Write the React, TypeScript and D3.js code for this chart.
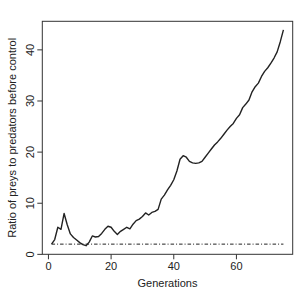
import React from 'react';
import * as d3 from 'd3';

// ratio per generation (1..75)
const generations = d3.range(1, 76);
const ratio = [
  2.0, 2.9, 5.3, 4.9, 8.0, 5.8, 4.0, 3.3, 2.8, 2.3,
  1.9, 1.7, 2.4, 3.6, 3.4, 3.5, 4.1, 4.9, 5.5, 5.3,
  4.5, 3.9, 4.5, 4.9, 5.3, 5.0, 5.9, 6.6, 6.9, 7.4,
  8.1, 7.7, 8.2, 8.4, 8.8, 10.8, 11.6, 12.6, 13.5, 14.6,
  16.3, 18.6, 19.3, 19.0, 18.2, 17.9, 17.8, 17.9, 18.2, 19.0,
  19.8, 20.6, 21.4, 22.0, 22.7, 23.5, 24.3, 25.0, 25.6, 26.6,
  27.3, 28.7, 29.4, 30.2, 31.8, 32.8, 33.5, 34.8, 35.8, 36.5,
  37.4, 38.4, 39.6, 41.6, 43.9,
];
const controlLevel = 2;
const xTicks = [0, 20, 40, 60];
const yTicks = [0, 10, 20, 30, 40];

const W = 297;
const H = 297;
const plot = { left: 42.3, right: 292.7, top: 21.3, bottom: 254.3 };

// R-style 4% axis expansion
const expand = (lo: number, hi: number): [number, number] => {
  const pad = (hi - lo) * 0.04;
  return [lo - pad, hi + pad];
};

const font = '"Liberation Sans", Arial, sans-serif';
const ink = '#222';

export default function App() {
  const x = d3.scaleLinear()
    .domain(expand(d3.min(generations)!, d3.max(generations)!))
    .range([plot.left, plot.right]);
  const y = d3.scaleLinear()
    .domain(expand(d3.min(ratio)!, d3.max(ratio)!))
    .range([plot.bottom, plot.top]);

  const line = d3.line<number>()
    .x((_, i) => x(generations[i]))
    .y(d => y(d));

  const midX = (plot.left + plot.right) / 2;
  const midY = (plot.top + plot.bottom) / 2;

  return (
    <svg width={W} height={H} style={{ position: 'absolute', left: 0, top: 0, background: '#fff' }}
      fontFamily={font}>
      <rect x={plot.left} y={plot.top} width={plot.right - plot.left} height={plot.bottom - plot.top}
        fill="none" stroke="#333" strokeWidth={1} />

      {xTicks.map(t => (
        <g key={'x' + t}>
          <line x1={x(t)} x2={x(t)} y1={plot.bottom} y2={plot.bottom + 5} stroke="#333" />
          <text x={x(t)} y={plot.bottom + 16} fontSize={11} textAnchor="middle" fill={ink}>{t}</text>
        </g>
      ))}

      {yTicks.map(t => (
        <g key={'y' + t}>
          <line x1={plot.left - 5} x2={plot.left} y1={y(t)} y2={y(t)} stroke="#333" />
          <text transform={`translate(${plot.left - 8},${y(t)}) rotate(-90)`} fontSize={11}
            textAnchor="middle" fill={ink}>{t}</text>
        </g>
      ))}

      <line x1={x(1)} x2={x(75)} y1={y(controlLevel)} y2={y(controlLevel)}
        stroke={ink} strokeWidth={1} strokeDasharray="3.5,2,1,2" />

      <path d={line(ratio) ?? ''} fill="none" stroke={ink} strokeWidth={1.4} strokeLinejoin="round" />

      <text x={midX} y={287} fontSize={11} textAnchor="middle" fill={ink}>Generations</text>
      <text transform={`translate(16,${midY}) rotate(-90)`} fontSize={11} textAnchor="middle" fill={ink}>
        Ratio of preys to predators before control
      </text>
    </svg>
  );
}
